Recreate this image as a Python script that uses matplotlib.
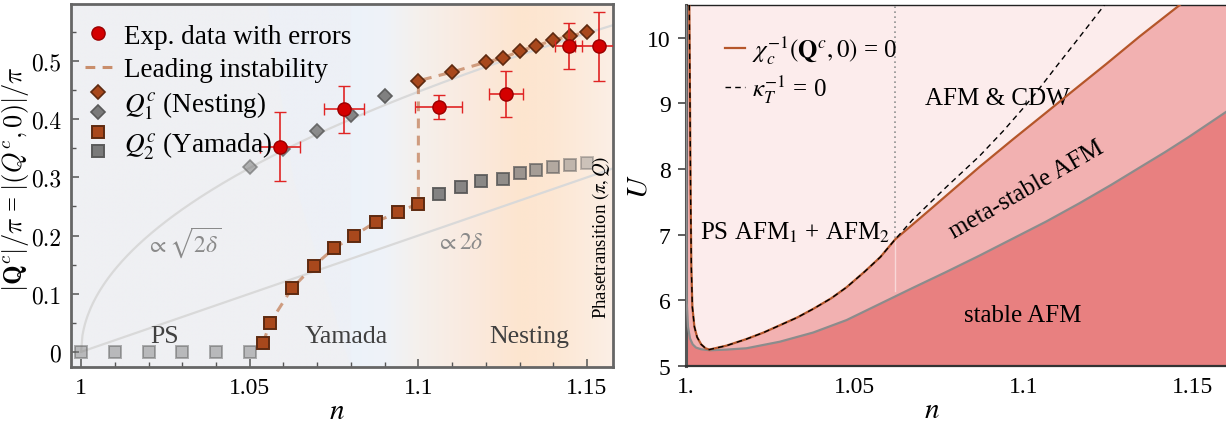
import numpy as np
import matplotlib
matplotlib.use("Agg")
import matplotlib.pyplot as plt
from matplotlib.lines import Line2D
from matplotlib.legend_handler import HandlerBase
from matplotlib.colors import to_rgb

plt.rcParams['font.family'] = ['Liberation Serif', 'DejaVu Serif']
plt.rcParams['mathtext.fontset'] = 'stix'

# ---------------- left panel data: ordering vector vs filling ----------------
exp_n = [1.059, 1.078, 1.106, 1.126, 1.1446, 1.1535]
exp_q = [0.353, 0.417, 0.421, 0.443, 0.526, 0.525]
exp_dn = [0.006, 0.006, 0.007, 0.005, 0.004, 0.007]
exp_dq = [0.059, 0.040, 0.020, 0.040, 0.040, 0.060]

yam_n = [1.054, 1.056, 1.0625, 1.069, 1.075, 1.081, 1.0875, 1.094, 1.100]
yam_q = [0.016, 0.050, 0.109, 0.148, 0.178, 0.200, 0.224, 0.240, 0.255]

nest_n = [1.100, 1.110, 1.120, 1.125, 1.130, 1.135, 1.140, 1.145, 1.150]
nest_q = [0.466, 0.481, 0.498, 0.505, 0.517, 0.526, 0.536, 0.543, 0.550]

nest_off_n = [1.05, 1.06, 1.07, 1.08, 1.09]
nest_off_q = [0.317, 0.348, 0.379, 0.408, 0.440]

yam_off_n = [1.00, 1.01, 1.02, 1.03, 1.04, 1.05,
             1.106, 1.1125, 1.1185, 1.125, 1.130, 1.135, 1.140, 1.145, 1.150]
yam_off_q = [0, 0, 0, 0, 0, 0,
             0.272, 0.284, 0.293, 0.298, 0.307, 0.312, 0.317, 0.322, 0.324]

left_xticks = [1.0, 1.05, 1.1, 1.15]
left_xticklabels = ['1', '1.05', '1.1', '1.15']
left_yticks = [0, 0.1, 0.2, 0.3, 0.4, 0.5]
left_yticklabels = ['0', '0.1', '0.2', '0.3', '0.4', '0.5']

# ---------------- right panel data: U-n phase diagram ----------------
# chi_c^{-1} = 0 line (coincides with kappa_T^{-1} = 0 up to the CDW onset)
chi_n = [1.0010, 1.0012, 1.0014, 1.0016, 1.0019, 1.0025, 1.0033, 1.0045, 1.0058,
         1.0069, 1.0120, 1.0179, 1.0230, 1.0278, 1.0330, 1.0377, 1.0430, 1.0476,
         1.0530, 1.0576, 1.0620, 1.0700, 1.0770, 1.0869, 1.0968, 1.1067, 1.1146,
         1.1245, 1.1344, 1.1463]
chi_U = [10.5, 9.0, 7.5, 6.5, 5.9, 5.6, 5.44, 5.33, 5.27,
         5.25, 5.31, 5.41, 5.51, 5.62, 5.74, 5.87, 6.03, 6.20,
         6.44, 6.66, 6.93, 7.28, 7.59, 8.03, 8.45, 8.86, 9.19,
         9.60, 10.02, 10.5]

kap_n = chi_n[:21] + [1.0670, 1.0720, 1.0770, 1.0820, 1.0870, 1.0940, 1.1008,
                      1.1046, 1.1100, 1.1146, 1.1190, 1.1240]
kap_U = chi_U[:21] + [7.22, 7.47, 7.72, 7.96, 8.20, 8.58, 8.98,
                      9.22, 9.58, 9.88, 10.17, 10.5]

# stability boundary of the AFM solution
stab_n = [1.0000, 1.0002, 1.0006, 1.0012, 1.0020, 1.0030, 1.0045, 1.0070, 1.0120,
          1.0179, 1.0278, 1.0377, 1.0476, 1.0576, 1.0672, 1.0770, 1.0869, 1.0968,
          1.1067, 1.1166, 1.1260, 1.1343, 1.1420, 1.1490, 1.1600]
stab_U = [10.5, 6.0, 5.6, 5.42, 5.33, 5.28, 5.255, 5.24, 5.25,
          5.27, 5.37, 5.51, 5.70, 5.95, 6.19, 6.43, 6.68, 6.94,
          7.20, 7.48, 7.76, 8.02, 8.26, 8.49, 8.87]

n_cdw = 1.062

right_xticks = [1.0, 1.05, 1.1, 1.15]
right_xticklabels = ['1.', '1.05', '1.1', '1.15']
right_yticks = [5, 6, 7, 8, 9, 10]

# ---------------- figure ----------------
fig = plt.figure(figsize=(12.26, 4.27), dpi=100)
axL = fig.add_axes([0.0579, 0.1382, 0.4421, 0.8501])
axR = fig.add_axes([0.5595, 0.1405, 0.4405, 0.8455])

XL0, XL1, YL0, YL1 = 0.997, 1.1577, -0.026, 0.598

# background shading of the three regimes
nx, ny = 700, 220
xs = np.linspace(XL0, XL1, nx)
ys = np.linspace(YL0, YL1, ny)
stops_n = [XL0, 1.0797, 1.0798, 1.090, 1.100, 1.115, 1.130, 1.140, XL1]
stops_c = ['#edf0f6', '#edf0f6', '#ecf2fa', '#eff3f8', '#f5f0ec', '#faeadf',
           '#fde5cf', '#fde7d3', '#fbefe6']
cols = np.array([to_rgb(c) for c in stops_c])
row = np.stack([np.interp(xs, stops_n, cols[:, k]) for k in range(3)], axis=-1)
img = np.repeat(row[None, :, :], ny, axis=0)
edge_y = [YL1, 0.298, YL0]
edge_x = [1.0551, 1.0628, 1.0797]
edge_at = np.interp(ys, edge_y[::-1], edge_x[::-1])
gray = np.array(to_rgb('#eff0f3'))
mask = xs[None, :] < edge_at[:, None]
img[mask] = gray
axL.imshow(img, extent=[XL0, XL1, YL0, YL1], origin='lower', aspect='auto',
           zorder=0, interpolation='bilinear')

# guide curves
ng = np.linspace(1.0, XL1, 400)
axL.plot(ng, np.sqrt(2 * (ng - 1.0)), color='#d9d9d9', lw=1.6, zorder=1)
axL.plot(ng, 2 * (ng - 1.0), color='#d9d9d9', lw=1.6, zorder=1)

# leading instability path
lead_n = yam_n + nest_n
lead_q = yam_q + nest_q
axL.plot(lead_n, lead_q, ls=(0, (3.2, 2.4)), color='#c98e6c', alpha=0.85,
         lw=2.2, zorder=2)

# subleading (grey) ordering vectors
off_sq_alpha = [0.45] * 6 + [0.9, 0.88, 0.85, 0.8, 0.72, 0.65, 0.55, 0.45, 0.35]
for n, q, a in zip(yam_off_n, yam_off_q, off_sq_alpha):
    axL.plot(n, q, 's', ms=8.5, mfc='#777777', mec='#555555', mew=1.4,
             alpha=a, zorder=3)
off_di_alpha = [0.55, 0.75, 0.85, 0.9, 0.95]
for n, q, a in zip(nest_off_n, nest_off_q, off_di_alpha):
    axL.plot(n, q, 'D', ms=6.8, mfc='#7a7a7a', mec='#5a5a5a', mew=1.2,
             alpha=a, zorder=3)

# leading ordering vectors
axL.plot(yam_n, yam_q, 's', ms=8.5, mfc='#a8481c', mec='#5e2a10', mew=1.4,
         ls='none', zorder=4)
axL.plot(nest_n, nest_q, 'D', ms=6.8, mfc='#a8481c', mec='#5e2a10', mew=1.2,
         ls='none', zorder=4)

# experimental data
axL.errorbar(exp_n, exp_q, xerr=exp_dn, yerr=exp_dq, fmt='o', ms=9.5,
             mfc='#d40000', mec='#9a0000', mew=1.0, ecolor='#e02424',
             elinewidth=1.2, capsize=4, capthick=1.2, zorder=5)

# region and guide labels
axL.text(1.0249, 0.028, 'PS', fontsize=18.5, color='#404040', ha='center', va='center')
axL.text(1.0785, 0.028, 'Yamada', fontsize=18.5, color='#404040', ha='center', va='center')
axL.text(1.1328, 0.028, 'Nesting', fontsize=18.5, color='#404040', ha='center', va='center')
axL.text(1.0305, 0.190, r'$\propto\sqrt{2\delta}$', fontsize=17, color='#8a8a8a',
         ha='center', va='center')
axL.text(1.1123, 0.188, r'$\propto 2\delta$', fontsize=17, color='#8a8a8a',
         ha='center', va='center')
axL.text(1.1540, 0.058, r'Phasetransition $(\pi, Q)$', fontsize=13.5, rotation=90,
         ha='center', va='bottom', color='black')

axL.set_xlim(XL0, XL1)
axL.set_ylim(YL0, YL1)
axL.set_xticks(left_xticks)
axL.set_xticklabels(left_xticklabels)
axL.set_xticks(np.arange(1.0, 1.151, 0.01), minor=True)
axL.set_yticks(left_yticks)
axL.set_yticklabels(left_yticklabels, family='cmr10')
axL.set_yticks(np.arange(0.05, 0.56, 0.1), minor=True)
axL.tick_params(axis='both', which='major', direction='in', length=6, width=1.1,
                color='#555555', labelsize=17, pad=7)
axL.tick_params(axis='both', which='minor', direction='in', length=3.5, width=1.0,
                color='#555555')
for sp in axL.spines.values():
    sp.set_color('#666666')
    sp.set_linewidth(2.0)
axL.set_xlabel(r'$n$', fontsize=21)
axL.xaxis.set_label_coords(0.49, -0.085)
axL.set_ylabel(r'$|\mathbf{Q}^c|/\pi$ = $|(Q^c,0)|/\pi$', fontsize=19,
               math_fontfamily='cm')
axL.yaxis.set_label_coords(-0.074, 0.52)


class StackedMarkers(HandlerBase):
    def create_artists(self, legend, orig_handle, xdescent, ydescent, width,
                       height, fontsize, trans):
        top, bottom = orig_handle
        cx = 0.5 * width - xdescent
        arts = []
        for h, fy in ((top, 1.05), (bottom, 0.0)):
            ln = Line2D([cx], [fy * height - ydescent], marker=h.get_marker(),
                        markersize=h.get_markersize(),
                        markerfacecolor=h.get_markerfacecolor(),
                        markeredgecolor=h.get_markeredgecolor(),
                        markeredgewidth=h.get_markeredgewidth(),
                        linestyle='none')
            ln.set_transform(trans)
            arts.append(ln)
        return arts


h_exp = Line2D([], [], marker='o', ms=9.5, mfc='#d40000', mec='#9a0000', ls='none')
h_lead = Line2D([], [], ls=(0, (3.2, 2.4)), color='#c98e6c', lw=2.2)
h_d1 = Line2D([], [], marker='D', ms=6.8, mfc='#a8481c', mec='#5e2a10', mew=1.2, ls='none')
h_d2 = Line2D([], [], marker='D', ms=6.8, mfc='#7a7a7a', mec='#5a5a5a', mew=1.2, ls='none')
h_s1 = Line2D([], [], marker='s', ms=8.0, mfc='#a8481c', mec='#5e2a10', mew=1.4, ls='none')
h_s2 = Line2D([], [], marker='s', ms=8.0, mfc='#7a7a7a', mec='#5a5a5a', mew=1.4, ls='none')
legL = axL.legend([h_exp, h_lead, (h_d1, h_d2), (h_s1, h_s2)],
                  ['Exp. data with errors', 'Leading instability',
                   r'$Q_1^c$ (Nesting)', r'$Q_2^c$ (Yamada)'],
                  handler_map={tuple: StackedMarkers()},
                  loc='upper left', bbox_to_anchor=(-0.005, 0.99), frameon=False,
                  fontsize=19.5, handlelength=1.0, handletextpad=0.45,
                  labelspacing=0.3, borderaxespad=0.2)

# ---------------- right panel ----------------
XR0, XR1, YR0, YR1 = 1.0, 1.16, 5.0, 10.5
axR.set_facecolor('#fcecec')
axR.fill([XR0] + chi_n + [XR1, XR1, XR0], [YR1] + chi_U + [YR1, YR0, YR0],
         color='#f2b1b1', lw=0, zorder=1)
axR.fill(stab_n + [XR1, XR0], stab_U + [YR0, YR0], color='#e88080', lw=0, zorder=2)
axR.plot(stab_n, stab_U, color='#8c8c8c', lw=1.6, zorder=3)
axR.plot(chi_n, chi_U, color='#b5562a', lw=1.6, zorder=4,
         label=r'$\chi_c^{-1}(\mathbf{Q}^c,0)$ = 0')
axR.plot(kap_n, kap_U, color='black', lw=1.0, ls=(0, (4, 3)), zorder=5,
         label=r'$\kappa_T^{-1}$ = 0')
axR.plot([n_cdw, n_cdw], [6.95, YR1], color='#909090', lw=1.2, ls=(0, (1, 2)), zorder=3)
axR.plot([n_cdw, n_cdw], [6.15, 6.95], color='white', lw=1.0, alpha=0.5, zorder=3)

axR.text(1.0323, 7.05, r'PS AFM$_1$ + AFM$_2$', fontsize=18, ha='center', va='center')
axR.text(1.0922, 9.09, 'AFM & CDW', fontsize=18, ha='center', va='center')
axR.text(1.1010, 7.70, 'meta-stable AFM', fontsize=18, ha='center', va='center',
         rotation=30, rotation_mode='anchor')
axR.text(1.0999, 5.78, 'stable AFM', fontsize=18, ha='center', va='center')

axR.set_xlim(XR0, XR1)
axR.set_ylim(YR0, YR1)
axR.set_xticks(right_xticks)
axR.set_xticklabels(right_xticklabels)
axR.set_xticks(np.arange(1.0, 1.161, 0.01), minor=True)
axR.set_yticks(right_yticks)
axR.tick_params(axis='x', which='major', direction='in', length=6, width=1.1,
                color='#333333', labelsize=17, pad=7)
axR.tick_params(axis='x', which='minor', direction='in', length=3.5, width=1.0,
                color='#333333')
axR.tick_params(axis='y', which='major', direction='out', length=6, width=1.1,
                color='#333333', labelsize=17, pad=5)
axR.spines['right'].set_visible(False)
axR.spines['top'].set_color('#222222')
axR.spines['top'].set_linewidth(1.0)
axR.spines['left'].set_color('#555555')
axR.spines['left'].set_linewidth(2.2)
axR.spines['bottom'].set_color('#333333')
axR.spines['bottom'].set_linewidth(1.6)
axR.set_xlabel(r'$n$', fontsize=21)
axR.xaxis.set_label_coords(0.455, -0.085)
axR.set_ylabel(r'$U$', fontsize=21)
axR.yaxis.set_label_coords(-0.062, 0.5)
axR.legend(loc='upper left', bbox_to_anchor=(0.03, 0.985), frameon=False,
           fontsize=18, handlelength=0.8, handletextpad=0.3, labelspacing=0.3)

fig.savefig('out.png', dpi=100)
